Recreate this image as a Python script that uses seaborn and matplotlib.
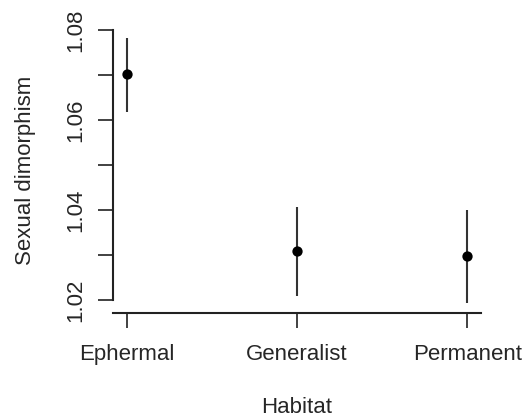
"""
Sexual dimorphism by habitat, mean with interval.
"""

import matplotlib
matplotlib.use("Agg")
import matplotlib.pyplot as plt
import pandas as pd
import seaborn as sns

habitat = ["Ephermal", "Generalist", "Permanent"]
dimorphism = [1.0703, 1.0310, 1.0298]
lower = [1.0619, 1.0210, 1.0195]
upper = [1.0783, 1.0408, 1.0400]
y_ticks = [1.02, 1.03, 1.04, 1.05, 1.06, 1.07, 1.08]
y_labels = ["1.02", "", "1.04", "", "1.06", "", "1.08"]

df = pd.DataFrame({"Habitat": habitat, "dim": dimorphism, "lo": lower, "hi": upper})

sns.set_style("ticks")
plt.rcParams["font.family"] = ["Liberation Sans", "DejaVu Sans"]

fig = plt.figure(figsize=(5.25, 4.18), dpi=100)
ax = fig.add_axes([0.215, 0.251, 0.701, 0.684])

ax.vlines(df["Habitat"], df["lo"], df["hi"], color="#333333", linewidth=1.5)
sns.scatterplot(ax=ax, data=df, x="Habitat", y="dim", color="black", s=55,
                edgecolor="black", linewidth=0, zorder=3)

ax.set_xlim(-0.08, 2.08)
ax.set_ylim(1.01715, 1.08065)
ax.set_yticks(y_ticks)
ax.set_yticklabels(y_labels, rotation=90, va="center")

for s in ["top", "right"]:
    ax.spines[s].set_visible(False)
ax.spines["left"].set_bounds(1.02, 1.08)
for s in ["left", "bottom"]:
    ax.spines[s].set_linewidth(1.5)
    ax.spines[s].set_color("#222222")

ax.tick_params(axis="both", length=10.5, width=1.3, color="#333333", labelsize=16)
ax.tick_params(axis="x", pad=12)
ax.tick_params(axis="y", pad=9)
ax.set_xlabel("Habitat", fontsize=16, labelpad=23)
ax.set_ylabel("Sexual dimorphism", fontsize=16, labelpad=21)

plt.savefig("out.png", dpi=100)
